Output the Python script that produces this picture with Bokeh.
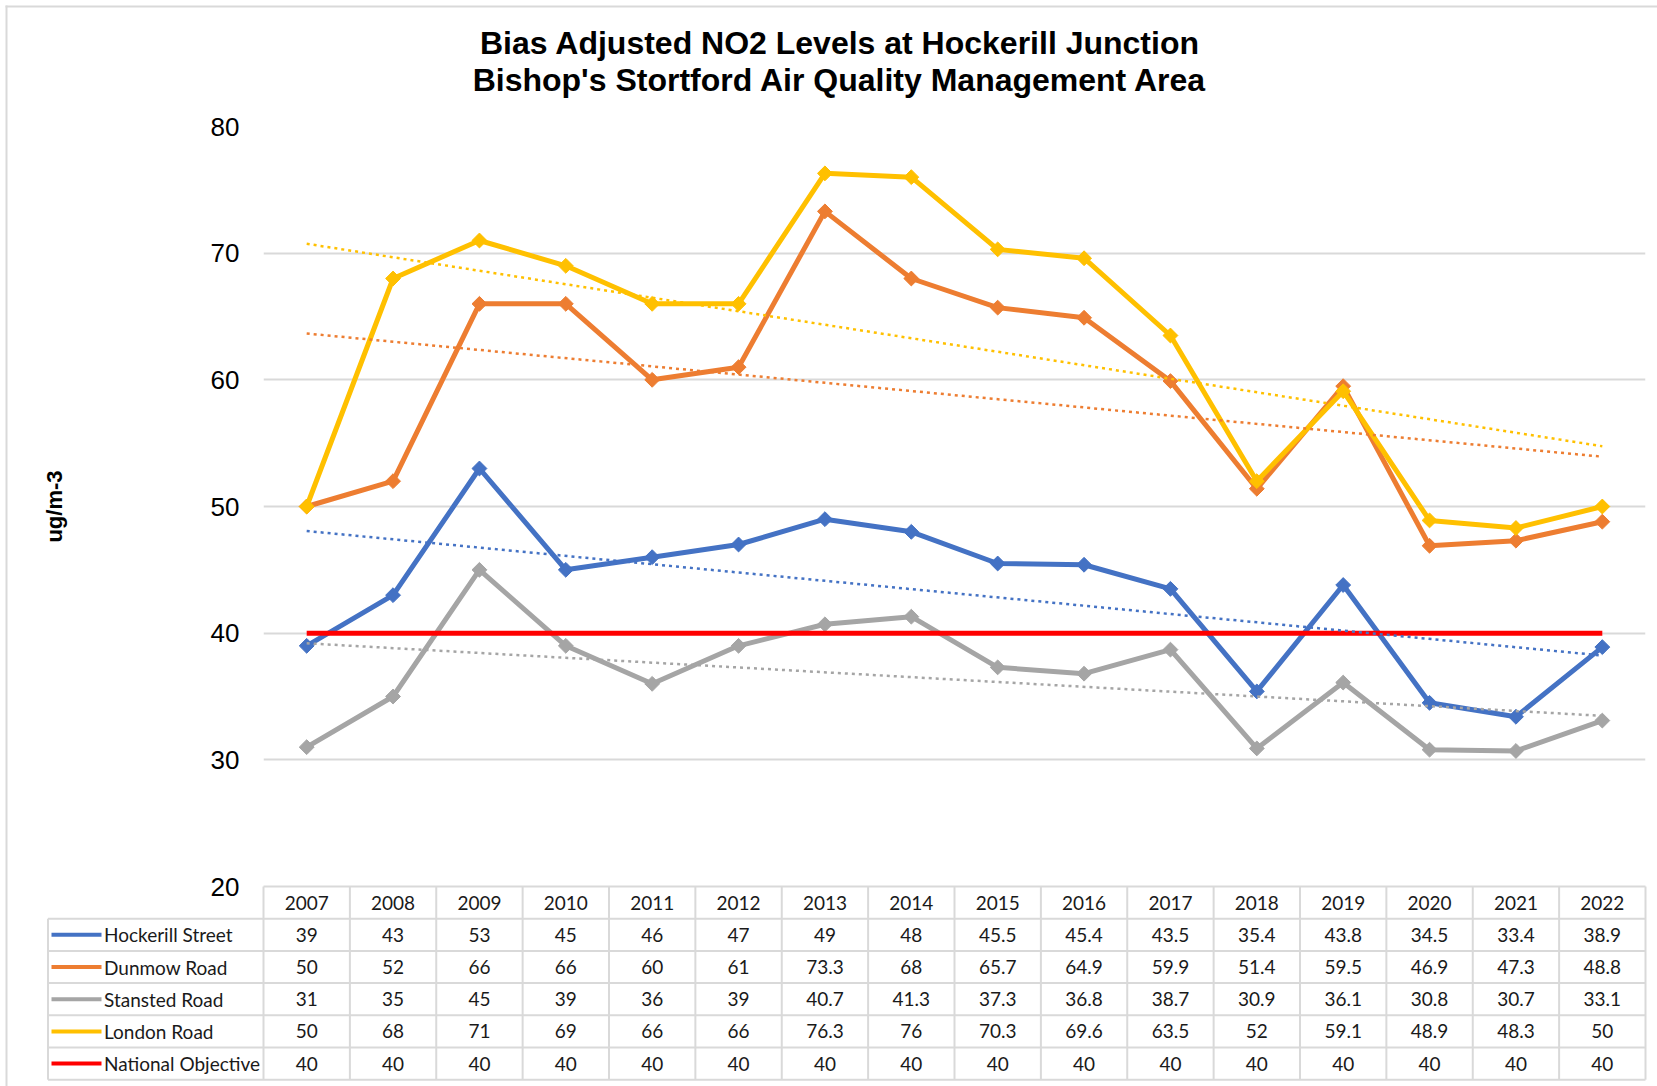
import numpy as np
from bokeh.plotting import figure
from bokeh.models import FactorRange, Range1d, FixedTicker
from bokeh.core.properties import value
from bokeh.embed import file_html
from bokeh.resources import INLINE

# ---------------- data ----------------
years = ["2007", "2008", "2009", "2010", "2011", "2012", "2013", "2014",
         "2015", "2016", "2017", "2018", "2019", "2020", "2021", "2022"]
hockerill = [39, 43, 53, 45, 46, 47, 49, 48, 45.5, 45.4, 43.5, 35.4, 43.8, 34.5, 33.4, 38.9]
dunmow = [50, 52, 66, 66, 60, 61, 73.3, 68, 65.7, 64.9, 59.9, 51.4, 59.5, 46.9, 47.3, 48.8]
stansted = [31, 35, 45, 39, 36, 39, 40.7, 41.3, 37.3, 36.8, 38.7, 30.9, 36.1, 30.8, 30.7, 33.1]
london = [50, 68, 71, 69, 66, 66, 76.3, 76, 70.3, 69.6, 63.5, 52, 59.1, 48.9, 48.3, 50]
national = [40, 40, 40, 40, 40, 40, 40, 40, 40, 40, 40, 40, 40, 40, 40, 40]
series_names = ["Hockerill Street", "Dunmow Road", "Stansted Road", "London Road", "National Objective"]
y_ticks = [20, 30, 40, 50, 60, 70, 80]
title_lines = ["Bias Adjusted NO2 Levels at Hockerill Junction",
               "Bishop's Stortford Air Quality Management Area"]
y_label = "ug/m-3"

# ---------------- styles / layout ----------------
colors = ["#4472C4", "#ED7D31", "#A5A5A5", "#FFC000", "#FF0000"]
GRID = "#D9D9D9"
W, H = 1657, 1086
FL, FR, FT, FB = 263, 1645, 126, 886
Y0, Y1 = y_ticks[0], y_ticks[-1]
BW = (FR - FL) / len(years)
PPU = (FB - FT) / (Y1 - Y0)
ROW_PX = 32.2


def dx(cx):
    return (cx - FL) / BW


def dy(cy):
    return Y0 + (FB - cy) / PPU


p = figure(width=W, height=H,
           x_range=FactorRange(factors=years, range_padding=0),
           y_range=Range1d(Y0, Y1),
           output_backend="svg", toolbar_location=None, title=None,
           min_border_left=FL, min_border_right=W - FR,
           min_border_top=FT, min_border_bottom=H - FB)
p.outline_line_color = None
p.background_fill_color = "white"
p.border_fill_color = "white"
p.xgrid.visible = False
p.ygrid.grid_line_color = GRID
p.ygrid.grid_line_width = 2

p.yaxis.ticker = FixedTicker(ticks=y_ticks)
p.yaxis.axis_line_color = None
p.yaxis.major_tick_line_color = None
p.yaxis.minor_tick_line_color = None
p.yaxis.major_tick_out = 0
p.yaxis.major_label_standoff = 24
p.yaxis.major_label_text_font = "Liberation Sans"
p.yaxis.major_label_text_font_size = "26px"
p.yaxis.major_label_text_color = "#000000"
p.yaxis.axis_label = y_label
p.yaxis.axis_label_text_font = "Liberation Sans"
p.yaxis.axis_label_text_font_style = "bold"
p.yaxis.axis_label_text_font_size = "22px"
p.yaxis.axis_label_text_color = "#000000"
p.yaxis.axis_label_standoff = 141

p.xaxis.axis_line_color = None
p.xaxis.major_tick_line_color = None
p.xaxis.minor_tick_line_color = None
p.xaxis.major_tick_out = 0
p.xaxis.major_label_standoff = 9
p.xaxis.major_label_text_font = "Lato"
p.xaxis.major_label_text_font_size = "19px"
p.xaxis.major_label_text_color = "#1a1a1a"

all_series = [hockerill, dunmow, stansted, london, national]

# series lines with diamond markers
for vals, col in zip(all_series[:4], colors[:4]):
    p.line(years, vals, line_width=5, line_color=col, line_join="round")
    p.scatter(years, vals, marker="square", angle=np.pi / 4, size=10.5,
              fill_color=col, line_color=col)

# national objective
p.line(years, national, line_width=5, line_color=colors[4])

# linear trendlines (Excel style, dotted)
t = np.arange(1, len(years) + 1)
for vals, col in zip(all_series[:4], colors[:4]):
    k, b = np.polyfit(t, np.array(vals, dtype=float), 1)
    p.line([years[0], years[-1]], [k * t[0] + b, k * t[-1] + b],
           line_width=2.5, line_color=col, line_dash="3 4")

# ---------------- data table below ----------------
n = len(years)
row_h = ROW_PX / PPU
yb = [Y0 - k * row_h for k in range(len(series_names) + 2)]
x_leg = dx(47.5)

# vertical borders
vx = list(range(n + 1))
p.segment(x0=vx, y0=[yb[0]] * len(vx), x1=vx, y1=[yb[-1]] * len(vx),
          line_color=GRID, line_width=2, level="overlay")
p.segment(x0=[x_leg], y0=[yb[1]], x1=[x_leg], y1=[yb[-1]],
          line_color=GRID, line_width=2, level="overlay")
# horizontal borders
p.segment(x0=[0], y0=[yb[0]], x1=[n], y1=[yb[0]],
          line_color=GRID, line_width=2, level="overlay")
hy = yb[1:]
p.segment(x0=[x_leg] * len(hy), y0=hy, x1=[n] * len(hy), y1=hy,
          line_color=GRID, line_width=2, level="overlay")

# cell values
cx, cy, ct = [], [], []
for r, vals in enumerate(all_series):
    yc = (yb[r + 1] + yb[r + 2]) / 2
    for i, v in enumerate(vals):
        cx.append(i + 0.5)
        cy.append(yc)
        ct.append(f"{v:g}")
p.text(x=cx, y=cy, text=ct, text_align="center", text_baseline="middle",
       text_font=value("Lato"), text_font_size="19px", text_color="#1a1a1a",
       level="overlay")

# legend keys in the table
row_c = [(yb[r + 1] + yb[r + 2]) / 2 for r in range(len(series_names))]
p.segment(x0=[dx(51)] * len(row_c), y0=row_c, x1=[dx(101)] * len(row_c), y1=row_c,
          line_color=colors, line_width=4, level="overlay")
p.scatter(x=[dx(76)] * 4, y=row_c[:4], marker="square", angle=np.pi / 4, size=8,
          fill_color=colors[:4], line_color=colors[:4], level="overlay")
p.text(x=[dx(103.5)] * len(row_c), y=row_c, text=series_names,
       text_align="left", text_baseline="middle",
       text_font=value("Lato"), text_font_size="19px", text_color="#1a1a1a",
       level="overlay")

# title
p.text(x=[dx(839.6)] * 2, y=[dy(42.5), dy(79.3)], text=title_lines,
       text_align="center", text_baseline="middle",
       text_font=value("Liberation Sans"), text_font_style="bold",
       text_font_size="32px", text_color="#000000", level="overlay")

# chart border (top/left)
p.segment(x0=[dx(5), dx(6)], y0=[dy(6), dy(5)], x1=[dx(W), dx(6)], y1=[dy(6), dy(H)],
          line_color=GRID, line_width=2, level="overlay")

open("out.html", "w").write(file_html(p, INLINE))
